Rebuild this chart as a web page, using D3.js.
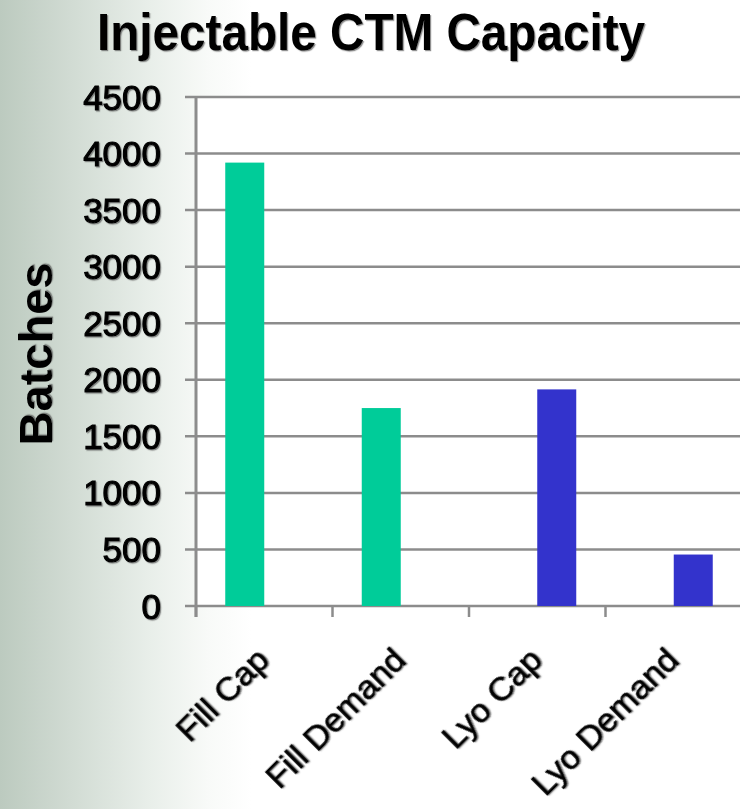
<!DOCTYPE html>
<html>
<head>
<meta charset="utf-8">
<script src="https://cdn.jsdelivr.net/npm/d3@7"></script>
<style>
  html, body { margin: 0; padding: 0; background: #fff; }
  svg { display: block; font-family: "Liberation Sans", Arial, sans-serif; }
</style>
</head>
<body>
<svg id="chart" width="740" height="809"></svg>
<script>
// Chart content
const chartTitle = "Injectable CTM Capacity";
const yAxisTitle = "Batches";
const categories = ["Fill Cap", "Fill Demand", "Lyo Cap", "Lyo Demand"];
const seriesNames = ["Fill", "Lyo"];
const fillValues = [3920, 1750, 0, 0];
const lyoValues = [0, 0, 1915, 455];
const yTicks = [0, 500, 1000, 1500, 2000, 2500, 3000, 3500, 4000, 4500];

const seriesColors = { Fill: "#00CC99", Lyo: "#3333CC" };
const seriesValues = { Fill: fillValues, Lyo: lyoValues };

const W = 740, H = 809;
const plot = { left: 196, right: 742, top: 97, bottom: 606 };
const gridColor = "#8c8c8c";

const svg = d3.select("#chart");
const defs = svg.append("defs");

// Slide background: soft grey-green fading to white
const bg = defs.append("linearGradient").attr("id", "bgGrad")
  .attr("x1", "0").attr("y1", "0").attr("x2", "1").attr("y2", "0");
bg.append("stop").attr("offset", "0%").attr("stop-color", "#bccabf");
bg.append("stop").attr("offset", "10%").attr("stop-color", "#d2dcd4");
bg.append("stop").attr("offset", "20%").attr("stop-color", "#e8eee9");
bg.append("stop").attr("offset", "28%").attr("stop-color", "#f8faf8");
bg.append("stop").attr("offset", "34%").attr("stop-color", "#ffffff");
bg.append("stop").attr("offset", "100%").attr("stop-color", "#ffffff");

// Soft text shadow
const sh = defs.append("filter").attr("id", "txtShadow")
  .attr("x", "-10%").attr("y", "-10%").attr("width", "120%").attr("height", "130%");
sh.append("feDropShadow").attr("dx", 1.2).attr("dy", 1.2)
  .attr("stdDeviation", 0.6).attr("flood-color", "#444").attr("flood-opacity", 0.6);

svg.append("rect").attr("width", W).attr("height", H).attr("fill", "url(#bgGrad)");

// Plot area
svg.append("rect")
  .attr("x", plot.left).attr("y", plot.top)
  .attr("width", plot.right - plot.left).attr("height", plot.bottom - plot.top)
  .attr("fill", "#ffffff");

// Scales
const y = d3.scaleLinear().domain([0, 4500]).range([plot.bottom, plot.top]);
const x0 = d3.scaleBand().domain(categories).range([plot.left, plot.right])
  .paddingInner(0).paddingOuter(0);
const x1 = d3.scaleBand().domain(seriesNames).range([0, x0.bandwidth()])
  .paddingInner(0).paddingOuter(0.75);

// Horizontal gridlines with left tick marks
svg.append("g").selectAll("line.grid")
  .data(yTicks)
  .join("line")
  .attr("class", "grid")
  .attr("x1", plot.left - 11).attr("x2", W)
  .attr("y1", d => y(d)).attr("y2", d => y(d))
  .attr("stroke", gridColor).attr("stroke-width", 2.5);

// Category tick marks below the baseline
const catEdges = categories.map(c => x0(c));
svg.append("g").selectAll("line.xtick")
  .data(catEdges)
  .join("line")
  .attr("x1", d => d).attr("x2", d => d)
  .attr("y1", plot.bottom).attr("y2", plot.bottom + 11)
  .attr("stroke", gridColor).attr("stroke-width", 2.5);

// Bars
const rows = [];
categories.forEach((c, i) => {
  seriesNames.forEach(s => {
    const v = seriesValues[s][i];
    if (v > 0) rows.push({ cat: c, series: s, value: v });
  });
});
svg.append("g").selectAll("rect.bar")
  .data(rows)
  .join("rect")
  .attr("class", "bar")
  .attr("x", d => x0(d.cat) + x1(d.series))
  .attr("width", x1.bandwidth())
  .attr("y", d => y(d.value))
  .attr("height", d => y(0) - y(d.value))
  .attr("fill", d => seriesColors[d.series]);

// Y axis line
svg.append("line")
  .attr("x1", plot.left).attr("x2", plot.left)
  .attr("y1", plot.top).attr("y2", plot.bottom + 11)
  .attr("stroke", gridColor).attr("stroke-width", 3);

// Y tick labels
svg.append("g").selectAll("text.ytl")
  .data(yTicks)
  .join("text")
  .attr("x", 161)
  .attr("y", d => y(d))
  .attr("dy", "0.36em")
  .attr("text-anchor", "end")
  .attr("font-size", 35)
  .attr("fill", "#000")
  .attr("stroke", "#000").attr("stroke-width", 1.1)
  .attr("filter", "url(#txtShadow)")
  .text(d => d);

// Category labels, rotated
svg.append("g").selectAll("text.xtl")
  .data(categories)
  .join("text")
  .attr("transform", d => `translate(${x0(d) + x0.bandwidth() / 2 + 7},${plot.bottom + 56}) rotate(-45)`)
  .attr("text-anchor", "end")
  .attr("font-size", 34)
  .attr("fill", "#000")
  .attr("stroke", "#000").attr("stroke-width", 0.6)
  .attr("filter", "url(#txtShadow)")
  .text(d => d);

// Y axis title
svg.append("text")
  .attr("transform", "translate(52,354) rotate(-90)")
  .attr("text-anchor", "middle")
  .attr("font-size", 47)
  .attr("font-weight", "bold")
  .attr("fill", "#000")
  .attr("filter", "url(#txtShadow)")
  .text(yAxisTitle);

// Chart title
svg.append("text")
  .attr("x", 97).attr("y", 50)
  .attr("font-size", 52)
  .attr("font-weight", "bold")
  .attr("fill", "#000")
  .attr("textLength", 548)
  .attr("lengthAdjust", "spacingAndGlyphs")
  .attr("filter", "url(#txtShadow)")
  .text(chartTitle);
</script>
</body>
</html>
